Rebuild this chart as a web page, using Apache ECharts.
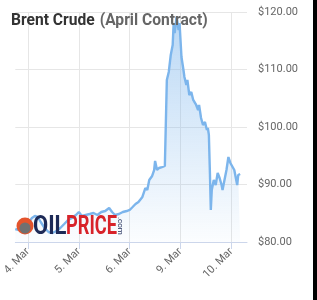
<!DOCTYPE html>
<html>
<head>
<meta charset="utf-8">
<script src="https://cdn.jsdelivr.net/npm/echarts@6/dist/echarts.min.js"></script>
<style>
html,body{margin:0;padding:0;background:#fff;}
#chart{width:317px;height:300px;}
#edge{position:absolute;left:313px;top:0;width:4px;height:300px;background:#000;}
</style>
</head>
<body>
<div id="chart"></div>
<div id="edge"></div>
<script>
// Trading-day index (0 = 4 Mar, 1 = 5 Mar, 2 = 6 Mar, 3 = 9 Mar, 4 = 10 Mar)
const dayOffsets = [-0.25,-0.192,-0.135,-0.058,0.019,0.077,0.135,0.192,0.25,0.327,0.404,0.481,0.558,0.635,0.712,0.788,0.865,0.942,1.0,1.058,1.135,1.212,1.288,1.365,1.442,1.519,1.596,1.654,1.712,1.788,1.865,1.942,2.0,2.058,2.115,2.173,2.25,2.308,2.346,2.385,2.442,2.481,2.5,2.538,2.577,2.635,2.692,2.712,2.731,2.769,2.808,2.846,2.865,2.885,2.923,2.962,2.981,3.019,3.058,3.077,3.115,3.135,3.173,3.212,3.25,3.308,3.346,3.365,3.404,3.442,3.481,3.519,3.538,3.558,3.577,3.596,3.615,3.654,3.692,3.731,3.769,3.808,3.827,3.865,3.904,3.942,3.981,4.019,4.058,4.096,4.115,4.135,4.173];
const prices = [82.26,82.09,82.43,82.61,83.48,84.17,84.52,84.35,83.48,82.43,81.74,81.57,81.91,82.43,83.13,83.83,84.17,84.70,85.22,84.52,84.70,84.87,85.04,84.70,85.22,85.39,85.91,85.22,84.70,84.87,85.22,85.39,85.57,86.09,86.61,86.96,87.83,89.39,89.04,90.78,91.48,92.52,94.09,92.52,92.87,93.04,93.22,93.39,108.17,109.57,112.52,114.26,118.09,116.35,119.13,116.87,118.09,112.17,109.91,108.70,107.30,108.17,105.57,106.09,104.70,103.83,102.96,103.83,101.57,100.35,100.87,99.48,99.83,98.61,92.52,85.57,89.04,90.78,89.91,92.0,91.13,89.91,89.04,90.78,92.52,94.78,93.74,93.91,92.52,90.78,89.91,91.65,91.83];
const tickDays = [0,1,2,3,4];
const tickLabels = ['4. Mar','5. Mar','6. Mar','9. Mar','10. Mar'];
const yTicks = [80,90,100,110,120];

const chart = echarts.init(document.getElementById('chart'), null, {renderer:'canvas'});
const seriesData = dayOffsets.map((d,i)=>[d, prices[i]]);
chart.setOption({
  animation:false,
  title:{
    left:6, top:7,
    text:'{a|Brent Crude} {b|(April Contract)}',
    textStyle:{
      rich:{
        a:{fontFamily:'Roboto',fontWeight:'bold',fontSize:15.6,color:'#333333'},
        b:{fontFamily:'Roboto',fontWeight:'bold',fontSize:15.6,color:'#666666'}
      }
    }
  },
  grid:{left:10,right:70,top:12,bottom:58,containLabel:false},
  xAxis:{
    type:'value', min:-0.25, max:4.308,
    axisLine:{show:true,lineStyle:{color:'#ccd6eb',width:1}},
    axisTick:{show:true,length:7,lineStyle:{color:'#ccd6eb'},customValues:tickDays},
    splitLine:{show:true,lineStyle:{color:'#e6e6e6',width:1}},
    axisLabel:{
      customValues:tickDays,
      rotate:45, margin:8,
      fontFamily:'Roboto', fontSize:11, color:'#666666',
      formatter:(v)=>{const i=tickDays.indexOf(Math.round(v)); return i>=0?tickLabels[i]:'';}
    }
  },
  yAxis:{
    type:'value', position:'right', min:yTicks[0], max:yTicks[yTicks.length-1], interval:10,
    axisLine:{show:false}, axisTick:{show:false},
    splitLine:{show:true,lineStyle:{color:'#e6e6e6',width:1}},
    axisLabel:{margin:11, fontFamily:'Roboto', fontSize:11, color:'#666666',
      formatter:(v)=>'$'+v.toFixed(2)}
  },
  series:[{
    type:'line', data:seriesData, showSymbol:false, symbol:'none',
    lineStyle:{color:'#7cb5ec',width:2.4},
    areaStyle:{color:new echarts.graphic.LinearGradient(0,0,0,1,[
      {offset:0,color:'rgba(124,181,236,0.75)'},
      {offset:1,color:'rgba(124,181,236,0.04)'}])}
  }],
  graphic:[
    {type:'circle',shape:{cx:25,cy:226,r:8.5},style:{fill:'#e4542c'},z:100},
    {type:'circle',shape:{cx:25,cy:228,r:5.5},style:{fill:'#707070'},z:101},
    {type:'text',x:33,y:215,scaleX:0.88,z:100,style:{text:'OIL',fontFamily:'Roboto',fontWeight:'bold',fontSize:25,fill:'#1d2a57',verticalAlign:'top'}},
    {type:'text',x:66,y:215,scaleX:0.73,z:100,style:{text:'PRICE',fontFamily:'Roboto',fontWeight:'bold',fontSize:25,fill:'#d8232a',verticalAlign:'top'}},
    {type:'text',x:124,y:217,rotation:-Math.PI/2,z:100,style:{text:'.com',fontFamily:'Roboto',fontSize:8,fill:'#1d2a57',verticalAlign:'top',align:'left'}}
  ]
});
</script>
</body>
</html>
